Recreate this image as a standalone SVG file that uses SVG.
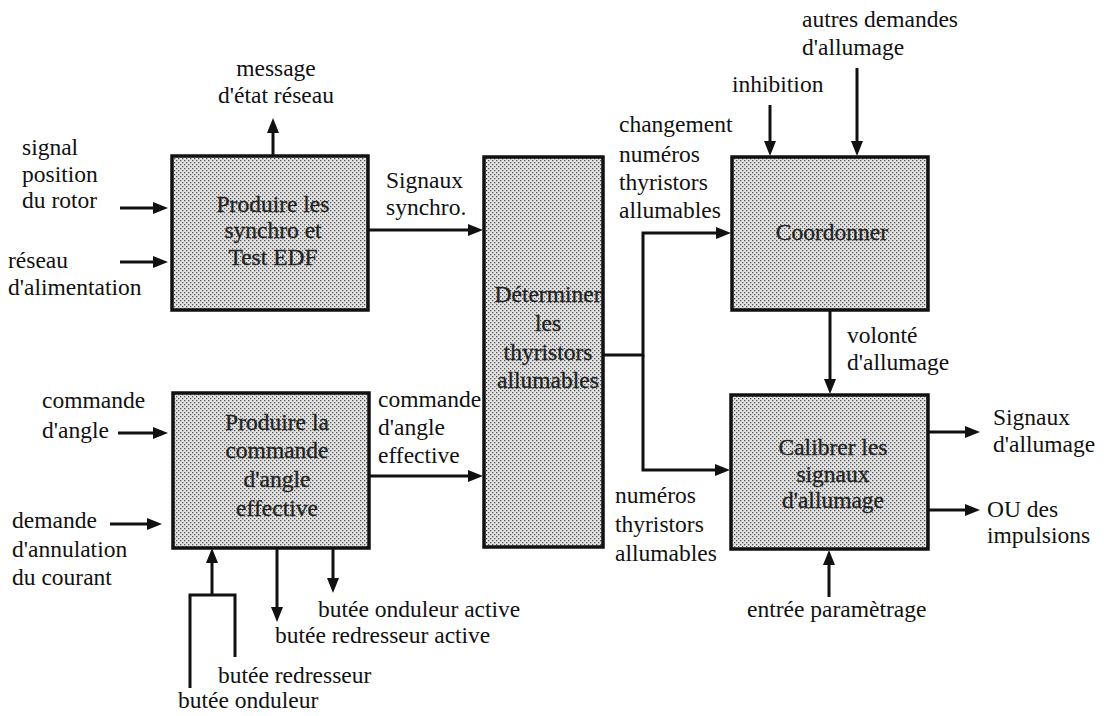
<svg xmlns="http://www.w3.org/2000/svg" width="1104" height="716" viewBox="0 0 1104 716" font-family="Liberation Serif, Times New Roman, serif" font-size="23.5">
<style>
.c{text-anchor:middle}
.bt{fill:#222;stroke:#222;stroke-width:0.3}
.box{fill:url(#dots);stroke:#111;stroke-width:3.5}
.ln{fill:none;stroke:#111;stroke-width:3}
.ar{marker-end:url(#ah)}
</style>
<defs>
<pattern id="dots" width="4" height="4" patternUnits="userSpaceOnUse">
<rect width="4" height="4" fill="#e3e3e3"/>
<rect x="0" y="0" width="1.3" height="1.3" fill="#555"/>
<rect x="2" y="2" width="1.3" height="1.3" fill="#555"/>
</pattern>
<marker id="ah" viewBox="0 0 15 12" refX="9" refY="6" markerWidth="15" markerHeight="12" markerUnits="userSpaceOnUse" orient="auto">
<path d="M0,0 L15,6 L0,12 z" fill="#111"/>
</marker>
</defs>

<g id="connectors">
<path class="ln ar" d="M120,208 H162"/>
<path class="ln ar" d="M120,262 H162"/>
<path class="ln ar" d="M273,156 V124"/>
<path class="ln ar" d="M368,230 H477"/>
<path class="ln ar" d="M118,433 H162"/>
<path class="ln ar" d="M110,524 H156"/>
<path class="ln ar" d="M369,476 H477"/>
<path class="ln" d="M190,688 V595 H235 V657"/>
<path class="ln ar" d="M212,595 V554"/>
<path class="ln ar" d="M277,548 V616"/>
<path class="ln ar" d="M333,548 V587"/>
<path class="ln ar" d="M603,355 H643 V233 H725"/>
<path class="ln ar" d="M643,355 V470 H724"/>
<path class="ln ar" d="M770,105 V150"/>
<path class="ln ar" d="M857,68 V150"/>
<path class="ln ar" d="M830,310 V388"/>
<path class="ln ar" d="M928,432 H974"/>
<path class="ln ar" d="M928,510 H974"/>
<path class="ln ar" d="M829,597 V556"/>
</g>

<g id="node-synchro">
<rect class="box" x="172" y="156" width="196" height="154"/>
<text class="c bt" x="273" y="212">Produire les</text>
<text class="c bt" x="273" y="238">synchro et</text>
<text class="c bt" x="273" y="265">Test EDF</text>
</g>

<g id="node-angle">
<rect class="box" x="173" y="393" width="196" height="155"/>
<text class="c bt" x="277" y="430">Produire la</text>
<text class="c bt" x="277" y="458">commande</text>
<text class="c bt" x="277" y="487">d'angle</text>
<text class="c bt" x="277" y="516">effective</text>
</g>

<g id="node-determiner">
<rect class="box" x="484" y="157" width="119" height="390"/>
<text class="c bt" x="548" y="302">Déterminer</text>
<text class="c bt" x="548" y="331">les</text>
<text class="c bt" x="548" y="360">thyristors</text>
<text class="c bt" x="548" y="388">allumables</text>
</g>

<g id="node-coordonner">
<rect class="box" x="732" y="157" width="196" height="153"/>
<text class="c bt" x="832" y="240">Coordonner</text>
</g>

<g id="node-calibrer">
<rect class="box" x="731" y="395" width="197" height="154"/>
<text class="c bt" x="833" y="455">Calibrer les</text>
<text class="c bt" x="833" y="482">signaux</text>
<text class="c bt" x="833" y="508">d'allumage</text>
</g>

<g id="labels" fill="#111">
<text class="c" x="276" y="76">message</text>
<text class="c" x="276" y="103">d'état réseau</text>
<text x="22" y="155">signal</text>
<text x="22" y="182">position</text>
<text x="22" y="208">du rotor</text>
<text x="8" y="268">réseau</text>
<text x="8" y="295">d'alimentation</text>
<text x="386" y="188">Signaux</text>
<text x="386" y="215">synchro.</text>
<text x="42" y="408">commande</text>
<text x="42" y="438">d'angle</text>
<text x="12" y="528">demande</text>
<text x="12" y="557">d'annulation</text>
<text x="12" y="585">du courant</text>
<text x="378" y="407">commande</text>
<text x="378" y="435">d'angle</text>
<text x="378" y="463">effective</text>
<text x="619" y="132">changement</text>
<text x="619" y="162">numéros</text>
<text x="619" y="190">thyristors</text>
<text x="619" y="218">allumables</text>
<text x="615" y="503">numéros</text>
<text x="615" y="532">thyristors</text>
<text x="615" y="561">allumables</text>
<text x="732" y="92">inhibition</text>
<text x="802" y="27">autres demandes</text>
<text x="802" y="55">d'allumage</text>
<text x="847" y="343">volonté</text>
<text x="847" y="370">d'allumage</text>
<text x="993" y="425">Signaux</text>
<text x="993" y="452">d'allumage</text>
<text x="987" y="517">OU des</text>
<text x="987" y="543">impulsions</text>
<text x="747" y="617">entrée paramètrage</text>
<text x="318" y="617">butée onduleur active</text>
<text x="275" y="643">butée redresseur active</text>
<text x="218" y="683">butée redresseur</text>
<text x="178" y="708">butée onduleur</text>
</g>
</svg>
